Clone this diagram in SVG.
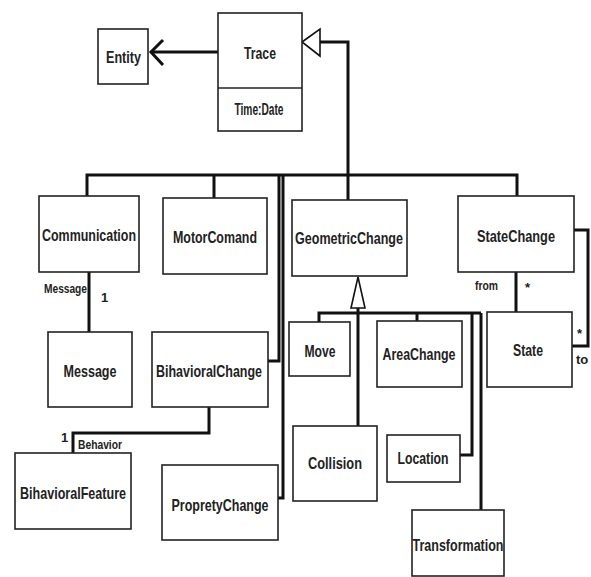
<svg xmlns="http://www.w3.org/2000/svg" width="591" height="577" viewBox="0 0 591 577">
<style>
.box{fill:#fff;stroke:#222;stroke-width:1.6}
.t{font-family:"Liberation Sans",Arial,sans-serif;font-weight:bold;font-size:17px;fill:#222;text-anchor:middle}
.s{font-family:"Liberation Sans",Arial,sans-serif;font-weight:bold;font-size:13px;fill:#222}
.c{fill:none;stroke:#111;stroke-width:3}
.tri{fill:#fff;stroke:#111;stroke-width:1.6}
</style>
<rect width="591" height="577" fill="#fff"/>
<g id="connectors">
<path class="c" d="M218,52 H151"/>
<polyline class="c" points="163,40 151,52 163,65" stroke-width="2.5"/>
<path class="c" d="M348,200 V42 H320"/>
<polygon class="tri" points="302,42 320,29 320,56"/>
<path class="c" d="M87,196 V175 H517 V196"/>
<path class="c" d="M214,175 V198"/>
<path class="c" d="M279,175 V361 H268"/>
<path class="c" d="M283,175 V498 H278"/>
<path class="c" d="M89,272 V332" stroke-width="2.5"/>
<path class="c" d="M209,407 V433 H73 V453"/>
<path class="c" d="M516,272 V312" stroke-width="2.5"/>
<path class="c" d="M574,230 H588 V346 H572"/>
<path class="c" d="M319,322 V313 H481"/>
<path class="c" d="M358,308 V426"/>
<path class="c" d="M417,313 V321"/>
<path class="c" d="M472,313 V455 H460"/>
<path class="c" d="M481,313 V510"/>
<polygon class="tri" points="358,277 351,308 365,308"/>
</g>
<g id="labels">
<text class="s" x="44" y="293" textLength="43" lengthAdjust="spacingAndGlyphs">Message</text>
<text class="s" x="101" y="302">1</text>
<text class="s" x="61" y="442">1</text>
<text class="s" x="78" y="449" textLength="44" lengthAdjust="spacingAndGlyphs">Behavior</text>
<text class="s" x="475" y="290" textLength="23" lengthAdjust="spacingAndGlyphs">from</text>
<text class="s" x="525" y="292">*</text>
<text class="s" x="577" y="338">*</text>
<text class="s" x="576" y="364">to</text>
</g>
<g id="Entity"><rect class="box" x="98" y="29" width="50" height="55"/><text class="t" x="123.5" y="63" textLength="35" lengthAdjust="spacingAndGlyphs">Entity</text></g>
<g id="Trace"><rect class="box" x="218" y="13" width="84" height="118"/><line x1="218" y1="88" x2="302" y2="88" stroke="#222" stroke-width="1.6"/><text class="t" x="260" y="59" textLength="32" lengthAdjust="spacingAndGlyphs">Trace</text><text class="t" x="259" y="114.5" font-size="13" font-weight="normal" textLength="49" lengthAdjust="spacingAndGlyphs">Time:Date</text></g>
<g id="Communication"><rect class="box" x="39" y="196" width="100" height="76"/><text class="t" x="89" y="241" textLength="94" lengthAdjust="spacingAndGlyphs">Communication</text></g>
<g id="MotorComand"><rect class="box" x="163" y="198" width="104" height="76"/><text class="t" x="215" y="243" textLength="84" lengthAdjust="spacingAndGlyphs">MotorComand</text></g>
<g id="GeometricChange"><rect class="box" x="292" y="200" width="115" height="76"/><text class="t" x="349" y="244" textLength="108" lengthAdjust="spacingAndGlyphs">GeometricChange</text></g>
<g id="StateChange"><rect class="box" x="458" y="196" width="116" height="76"/><text class="t" x="516" y="242" textLength="78" lengthAdjust="spacingAndGlyphs">StateChange</text></g>
<g id="Message"><rect class="box" x="48" y="332" width="84" height="75"/><text class="t" x="90" y="377" textLength="53" lengthAdjust="spacingAndGlyphs">Message</text></g>
<g id="BihavioralChange"><rect class="box" x="152" y="332" width="116" height="75"/><text class="t" x="209" y="377" textLength="106" lengthAdjust="spacingAndGlyphs">BihavioralChange</text></g>
<g id="Move"><rect class="box" x="289" y="322" width="61" height="54"/><text class="t" x="320" y="357" textLength="31" lengthAdjust="spacingAndGlyphs">Move</text></g>
<g id="AreaChange"><rect class="box" x="377" y="321" width="85" height="66"/><text class="t" x="419" y="360" textLength="73" lengthAdjust="spacingAndGlyphs">AreaChange</text></g>
<g id="State"><rect class="box" x="487" y="312" width="85" height="75"/><text class="t" x="528" y="356" textLength="30" lengthAdjust="spacingAndGlyphs">State</text></g>
<g id="Collision"><rect class="box" x="293" y="426" width="84" height="75"/><text class="t" x="335" y="469" textLength="54" lengthAdjust="spacingAndGlyphs">Collision</text></g>
<g id="Location"><rect class="box" x="387" y="435" width="73" height="47"/><text class="t" x="423" y="464" textLength="51" lengthAdjust="spacingAndGlyphs">Location</text></g>
<g id="Transformation"><rect class="box" x="412" y="510" width="92" height="66"/><text class="t" x="458" y="551" textLength="91" lengthAdjust="spacingAndGlyphs">Transformation</text></g>
<g id="BihavioralFeature"><rect class="box" x="15" y="453" width="116" height="76"/><text class="t" x="73" y="499" textLength="106" lengthAdjust="spacingAndGlyphs">BihavioralFeature</text></g>
<g id="ProprietyChange"><rect class="box" x="162" y="465" width="116" height="75"/><text class="t" x="220" y="511" textLength="97" lengthAdjust="spacingAndGlyphs">PropretyChange</text></g>
</svg>
